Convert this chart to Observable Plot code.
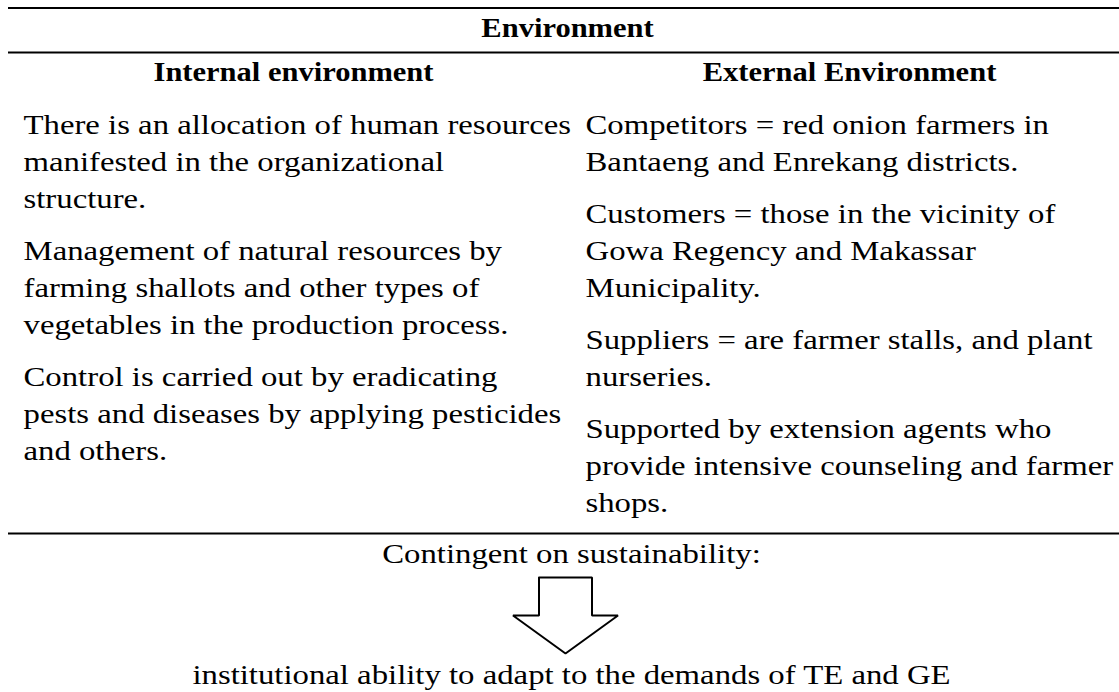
<!DOCTYPE html>
<html>
<head>
<meta charset="utf-8">
<script src="https://cdn.jsdelivr.net/npm/d3@7"></script>
<script src="https://cdn.jsdelivr.net/npm/@observablehq/plot@0.6"></script>
<style>
  html, body { margin: 0; padding: 0; background: #fff; }
  svg { display: block; }
</style>
</head>
<body>
<div id="chart"></div>
<script>
// ---- content ----
const title = "Environment";
const columnTitles = ["Internal environment", "External Environment"];
const internalItems = [
  ["There is an allocation of human resources", "manifested in the organizational", "structure."],
  ["Management of natural resources by", "farming shallots and other types of", "vegetables in the production process."],
  ["Control is carried out by eradicating", "pests and diseases by applying pesticides", "and others."]
];
const externalItems = [
  ["Competitors = red onion farmers in", "Bantaeng and Enrekang districts."],
  ["Customers = those in the vicinity of", "Gowa Regency and Makassar", "Municipality."],
  ["Suppliers = are farmer stalls, and plant", "nurseries."],
  ["Supported by extension agents who", "provide intensive counseling and farmer", "shops."]
];
const conditionText = "Contingent on sustainability:";
const outcomeText = "institutional ability to adapt to the demands of TE and GE";

// ---- layout (page geometry) ----
const W = 1119, H = 692;
const L = {
  ruleX1: 8, ruleX2: W, rules: [7.5, 52, 533],
  titleX: 567, titleY: 36,
  colLeft: [23, 585], colCenter: [293, 849], colTitleY: 80,
  firstBaseline: 133, lineStep: 37, paraGap: 15,
  condX: 571, condY: 562, outX: 571, outY: 683,
  arrow: {cx: 565, top: 577, shoulder: 615, tip: 653, shaft: 26.5, head: 52.5},
  fontSize: 28
};

function toRows(items, col) {
  const rows = [];
  let line = 0;
  items.forEach((para, p) => {
    para.forEach(text => {
      rows.push({text, x: L.colLeft[col], y: L.firstBaseline + line * L.lineStep + p * L.paraGap});
      line++;
    });
  });
  return rows;
}
const bodyRows = [...toRows(internalItems, 0), ...toRows(externalItems, 1)];
const headRows = [
  {text: title, x: L.titleX, y: L.titleY},
  {text: columnTitles[0], x: L.colCenter[0], y: L.colTitleY},
  {text: columnTitles[1], x: L.colCenter[1], y: L.colTitleY}
];
const footRows = [
  {text: conditionText, x: L.condX, y: L.condY},
  {text: outcomeText, x: L.outX, y: L.outY}
];
const A = L.arrow;
const arrowPts = [
  [A.cx - A.shaft, A.top], [A.cx + A.shaft, A.top], [A.cx + A.shaft, A.shoulder],
  [A.cx + A.head, A.shoulder], [A.cx, A.tip], [A.cx - A.head, A.shoulder],
  [A.cx - A.shaft, A.shoulder], [A.cx - A.shaft, A.top]
];

const chart = Plot.plot({
  width: W, height: H, margin: 0,
  x: {domain: [0, W], range: [0, W], axis: null},
  y: {domain: [0, H], range: [0, H], axis: null},
  style: {fontFamily: "'Liberation Serif', 'Times New Roman', serif", background: "#fff", color: "#000"},
  marks: [
    Plot.ruleY(L.rules, {x1: L.ruleX1, x2: L.ruleX2, stroke: "#000", strokeWidth: 2}),
    Plot.text(headRows, {x: "x", y: "y", text: "text", textAnchor: "middle", lineAnchor: "bottom",
      fontSize: L.fontSize, fontWeight: "bold", fill: "#000"}),
    Plot.text(bodyRows, {x: "x", y: "y", text: "text", textAnchor: "start", lineAnchor: "bottom",
      fontSize: L.fontSize, fill: "#000"}),
    Plot.text(footRows, {x: "x", y: "y", text: "text", textAnchor: "middle", lineAnchor: "bottom",
      fontSize: L.fontSize, fill: "#000"}),
    Plot.line(arrowPts, {x: d => d[0], y: d => d[1], stroke: "#000", strokeWidth: 2,
      fill: "#fff", strokeLinejoin: "miter", curve: "linear"})
  ]
});
document.getElementById("chart").append(chart);

// Widen the Times-like glyphs toward the Palatino-like proportions of the original.
chart.querySelectorAll("text").forEach(t => {
  const g = t.closest("g");
  const bold = g && g.getAttribute("font-weight") === "bold";
  const k = bold ? 1.09 : 1.17;
  const w = t.getComputedTextLength();
  if (w > 0) {
    t.setAttribute("textLength", (w * k).toFixed(1));
    t.setAttribute("lengthAdjust", "spacingAndGlyphs");
  }
});
</script>
</body>
</html>
